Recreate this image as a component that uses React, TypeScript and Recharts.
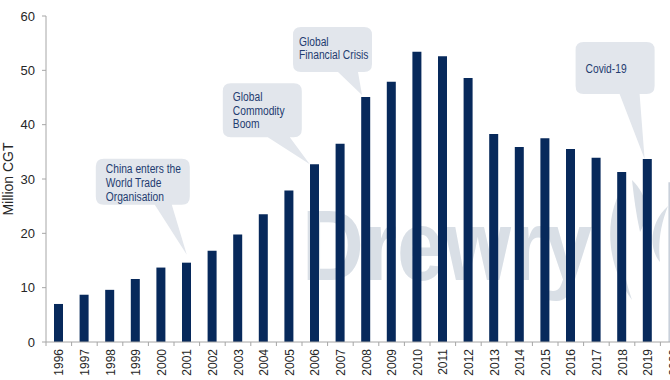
import React from 'react';
import { BarChart, Bar, XAxis, YAxis, ReferenceDot, Cell } from 'recharts';

// ---- data ----
const YEARS = ['1996','1997','1998','1999','2000','2001','2002','2003','2004','2005','2006','2007','2008','2009','2010','2011','2012','2013','2014','2015','2016','2017','2018','2019','2020'];
const CGT = [7.0, 8.7, 9.6, 11.6, 13.7, 14.6, 16.8, 19.8, 23.5, 27.9, 32.7, 36.5, 45.1, 47.9, 53.4, 52.6, 48.6, 38.3, 35.9, 37.5, 35.5, 33.9, 31.3, 33.7, 29.4];
const Y_TICKS = [0, 10, 20, 30, 40, 50, 60];
const Y_LABEL = 'Million CGT';

const CALLOUT_YEARS = ['2001', '2006', '2008', '2019'];
const CALLOUT_TEXTS = [
  ['China enters the', 'World Trade', 'Organisation'],
  ['Global', 'Commodity', 'Boom'],
  ['Global', 'Financial Crisis'],
  ['Covid-19'],
];
const WATERMARK = 'Drewry';

const data = YEARS.map((year, i) => ({ year, cgt: CGT[i] }));

// ---- layout / style ----
const CHART_W = 700;
const CHART_H = 380;
const MARGIN = { top: 16, right: 14, bottom: 0, left: 0 };
const YAXIS_W = 46;
const XAXIS_H = 38;
const BAND = (CHART_W - MARGIN.left - MARGIN.right - YAXIS_W) / YEARS.length;
const NAVY = '#07295b';
const LAST_BAR = '#c9d0da';
const AXIS = '#a6a6a6';
const TICK_TEXT = '#262626';
const BUBBLE = '#e2e6ec';
const BUBBLE_TEXT = '#1f3c70';
const FONT = "'Liberation Sans', Arial, sans-serif";
const NARROW_SCALE = 0.82;

// callout geometry relative to bar top (cx, cy)
const CALLOUT_STYLE = [
  { bx: -91, by: -104, w: 94, h: 46, ta: -32, tb: -15, tx: 0, ty: -8, px: 10, py: 14, lh: 14 },
  { bx: -92, by: -81, w: 79, h: 54, ta: -47, tb: -25, tx: -5, ty: 0, px: 10, py: 18, lh: 13.3 },
  { bx: -73, by: -70, w: 79, h: 45, ta: -28, tb: -8, tx: -4, ty: -2, px: 6, py: 19, lh: 13.3 },
  { bx: -72, by: -117, w: 79, h: 52, ta: -28, tb: -8, tx: -3, ty: 0, px: 10, py: 31, lh: 14 },
];

function bubblePath(x: number, y: number, w: number, h: number, r: number, a: number, b: number, tipX: number, tipY: number) {
  return [
    `M ${x + r} ${y}`,
    `L ${x + w - r} ${y}`,
    `Q ${x + w} ${y} ${x + w} ${y + r}`,
    `L ${x + w} ${y + h - r}`,
    `Q ${x + w} ${y + h} ${x + w - r} ${y + h}`,
    `L ${b} ${y + h}`,
    `L ${tipX} ${tipY}`,
    `L ${a} ${y + h}`,
    `L ${x + r} ${y + h}`,
    `Q ${x} ${y + h} ${x} ${y + h - r}`,
    `L ${x} ${y + r}`,
    `Q ${x} ${y} ${x + r} ${y}`,
    'Z',
  ].join(' ');
}

const makeCallout = (idx: number) => (props: any) => {
  const { cx, cy } = props;
  if (cx == null || cy == null) return <g />;
  const s = CALLOUT_STYLE[idx];
  const x = cx + s.bx;
  const y = cy + s.by;
  const d = bubblePath(x, y, s.w, s.h, 8, cx + s.ta, cx + s.tb, cx + s.tx, cy + s.ty);
  return (
    <g>
      <path d={d} fill={BUBBLE} stroke="none" />
      {CALLOUT_TEXTS[idx].map((line, i) => (
        <text
          key={i}
          transform={`translate(${x + s.px},${y + s.py + i * s.lh}) scale(${NARROW_SCALE},1)`}
          fontSize={12.5}
          fontFamily={FONT}
          fill={BUBBLE_TEXT}
        >
          {line}
        </text>
      ))}
    </g>
  );
};

const XTick = (props: any) => {
  const { x, y, payload, index } = props;
  return (
    <g>
      {index === 0 && <line x1={x - BAND / 2} y1={y - 6} x2={x - BAND / 2} y2={y - 2} stroke={AXIS} />}
      <line x1={x + BAND / 2} y1={y - 6} x2={x + BAND / 2} y2={y - 2} stroke={AXIS} />
      <text transform={`translate(${x + 4.5},${y + 1}) rotate(-90)`} textAnchor="end" fontSize={12} fontFamily={FONT} fill={TICK_TEXT}>
        {payload.value}
      </text>
    </g>
  );
};

const YLabel = (props: any) => {
  const vb = props.viewBox || {};
  const cy = (vb.y || 0) + (vb.height || 0) / 2;
  return (
    <text transform={`translate(13,${cy}) rotate(-90)`} textAnchor="middle" fontSize={14} fontFamily={FONT} fill={TICK_TEXT}>
      {Y_LABEL}
    </text>
  );
};

const Watermark = () => (
  <svg width={CHART_W} height={CHART_H} style={{ position: 'absolute', left: 0, top: 0 }}>
    <text x={302} y={280} fontSize={100} fontWeight={700} fontFamily={FONT} fill="#d9dfe6" textLength={290} lengthAdjust="spacingAndGlyphs">
      {WATERMARK}
    </text>
    <path d="M 626 182 C 604 212, 604 262, 632 300 C 620 266, 616 222, 626 182 Z" fill="#d9dfe6" />
    <path d="M 632 180 C 648 196, 650 214, 640 232 C 636 214, 634 198, 632 180 Z" fill="#d9dfe6" />
    <path d="M 668 206 C 650 222, 648 248, 660 262 C 658 244, 660 226, 668 206 Z" fill="#d9dfe6" />
  </svg>
);

export default function App() {
  return (
    <div style={{ position: 'fixed', left: 0, top: 0, width: 670, height: 380, overflow: 'hidden', background: '#fff' }}>
      <Watermark />
      <div style={{ position: 'absolute', left: 0, top: 0 }}>
        <BarChart width={CHART_W} height={CHART_H} data={data} margin={MARGIN} barCategoryGap={0}>
          <XAxis
            dataKey="year"
            interval={0}
            height={XAXIS_H}
            tickLine={false}
            tickSize={4}
            tickMargin={2}
            axisLine={{ stroke: AXIS }}
            tick={<XTick />}
          />
          <YAxis
            width={YAXIS_W}
            domain={[0, 60]}
            ticks={Y_TICKS}
            interval={0}
            tickSize={4}
            tickMargin={7}
            axisLine={{ stroke: AXIS }}
            tickLine={{ stroke: AXIS }}
            tick={{ fontSize: 13, fontFamily: FONT, fill: TICK_TEXT }}
            label={<YLabel />}
          />
          <Bar dataKey="cgt" fill={NAVY} barSize={9} isAnimationActive={false}>
            {data.map((d, i) => (
              <Cell key={d.year} fill={i === data.length - 1 ? LAST_BAR : NAVY} />
            ))}
          </Bar>
          {CALLOUT_YEARS.map((yr, i) => (
            <ReferenceDot
              key={yr}
              x={yr}
              y={CGT[YEARS.indexOf(yr)]}
              r={0}
              ifOverflow="visible"
              shape={makeCallout(i)}
            />
          ))}
        </BarChart>
      </div>
    </div>
  );
}
